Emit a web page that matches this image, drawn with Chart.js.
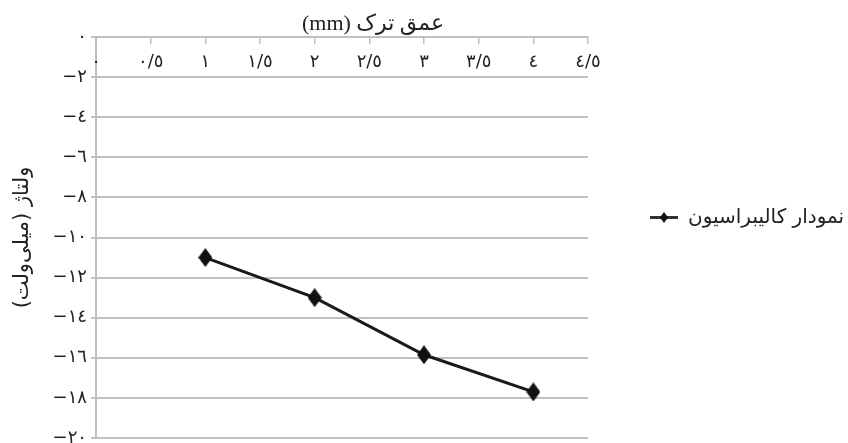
<!DOCTYPE html>
<html>
<head>
<meta charset="utf-8">
<script src="https://cdn.jsdelivr.net/npm/chart.js@4/dist/chart.umd.min.js"></script>
<style>
  html, body { margin: 0; padding: 0; background: #fff; }
  canvas { display: block; }
</style>
</head>
<body>
<canvas id="chart" width="848" height="443"></canvas>
<script>
// Calibration curve: crack depth (mm) against sensor voltage (mV)
const depthMm = [1, 2, 3, 4];
const voltageMv = [-11.0, -13.0, -15.85, -17.7];

const xTickValues = [0, 0.5, 1, 1.5, 2, 2.5, 3, 3.5, 4, 4.5];
const xTickLabels = ['٠', '٠/٥', '١', '١/٥', '٢', '٢/٥', '٣', '٣/٥', '٤', '٤/٥'];
const yTickValues = [0, -2, -4, -6, -8, -10, -12, -14, -16, -18, -20];
const yTickLabels = ['٠', '−٢', '−٤', '−٦', '−٨', '−١٠', '−١٢', '−١٤', '−١٦', '−١٨', '−٢٠'];

const seriesName = 'نمودار کالیبراسیون';
const xTitle = 'عمق ترک (mm)';
const yTitle = 'ولتاژ (میلی‌ولت)';

const RLE = '\u202B', PDF = '\u202C';
const gridColor = '#c0c0c0';
const textColor = '#222';
const arabicFont = '"DejaVu Sans", sans-serif';

// Diamond marker (optionally with a line through it for the legend)
function diamondIcon(w, h, lineLen) {
  const c = document.createElement('canvas');
  const cw = Math.max(w, lineLen || 0);
  c.width = cw; c.height = h;
  const g = c.getContext('2d');
  if (lineLen) {
    g.strokeStyle = '#333'; g.lineWidth = 3;
    g.beginPath(); g.moveTo(0, h / 2); g.lineTo(cw, h / 2); g.stroke();
  }
  g.fillStyle = '#111';
  g.beginPath();
  g.moveTo(cw / 2, 0);
  g.lineTo(cw / 2 + w / 2, h / 2);
  g.lineTo(cw / 2, h);
  g.lineTo(cw / 2 - w / 2, h / 2);
  g.closePath(); g.fill();
  return c;
}
const pointIcon = diamondIcon(14, 19);
const legendIcon = diamondIcon(8, 11, 28);

function labelFor(values, labels, v) {
  const i = values.findIndex(t => Math.abs(t - v) < 1e-6);
  return i >= 0 ? labels[i] : '';
}

// Axis title drawn above the plot, right-to-left
const topTitle = {
  id: 'topTitle',
  afterDraw(chart) {
    const { ctx, chartArea } = chart;
    ctx.save();
    ctx.font = '22px "Liberation Serif", "DejaVu Sans", serif';
    ctx.fillStyle = textColor;
    ctx.direction = 'rtl';
    ctx.textAlign = 'center';
    ctx.textBaseline = 'middle';
    ctx.fillText(xTitle, (chartArea.left + chartArea.right) / 2 + 31, chartArea.top - 13);
    ctx.restore();
  }
};

// Raise the legend a little above the vertical centre
const legendLift = {
  id: 'legendLift',
  afterLayout(chart) {
    if (chart.legend) { chart.legend.top -= 20; chart.legend.bottom -= 20; }
  }
};

new Chart(document.getElementById('chart'), {
  type: 'line',
  data: {
    datasets: [{
      label: seriesName,
      data: depthMm.map((x, i) => ({ x, y: voltageMv[i] })),
      borderColor: '#1a1a1a',
      backgroundColor: '#111',
      borderWidth: 3,
      pointStyle: pointIcon,
      pointRadius: 7,
      tension: 0
    }]
  },
  options: {
    responsive: false,
    animation: false,
    devicePixelRatio: 1,
    layout: { autoPadding: false, padding: { top: 37, left: 0, right: 0, bottom: 5 } },
    plugins: {
      legend: {
        position: 'right',
        align: 'center',
        maxWidth: 260,
        labels: {
          usePointStyle: true,
          pointStyle: legendIcon,
          pointStyleWidth: 28,
          padding: 62,
          color: textColor,
          font: { family: arabicFont, size: 20 }
        }
      },
      tooltip: { enabled: false }
    },
    scales: {
      x: {
        type: 'linear',
        position: { y: 0 },
        min: 0,
        max: 4.5,
        afterBuildTicks(scale) { scale.ticks = xTickValues.map(v => ({ value: v })); },
        afterFit(scale) { scale.height = 0; scale.paddingLeft = 0; scale.paddingRight = 0; },
        grid: { drawOnChartArea: false, drawTicks: true, tickLength: 6, color: gridColor, lineWidth: 1.5 },
        border: { display: true, color: gridColor, width: 2 },
        ticks: {
          z: 1,
          padding: 9,
          maxRotation: 0,
          autoSkip: false,
          color: textColor,
          font: { family: arabicFont, size: 18 },
          callback: v => labelFor(xTickValues, xTickLabels, v)
        }
      },
      y: {
        type: 'linear',
        position: 'left',
        min: -20,
        max: 0,
        afterBuildTicks(scale) { scale.ticks = yTickValues.slice().reverse().map(v => ({ value: v })); },
        afterFit(scale) { scale.width = 96; scale.paddingTop = 0; scale.paddingBottom = 0; },
        grid: { color: gridColor, lineWidth: 2, tickLength: 5 },
        border: { display: true, color: gridColor, width: 2 },
        ticks: {
          padding: 4,
          autoSkip: false,
          color: textColor,
          font: { family: arabicFont, size: 18 },
          callback: v => labelFor(yTickValues, yTickLabels, v)
        },
        title: {
          display: true,
          text: RLE + yTitle + PDF,
          color: textColor,
          font: { family: arabicFont, size: 21 },
          padding: { top: 10, bottom: 0 }
        }
      }
    }
  },
  plugins: [topTitle, legendLift]
});
</script>
</body>
</html>
